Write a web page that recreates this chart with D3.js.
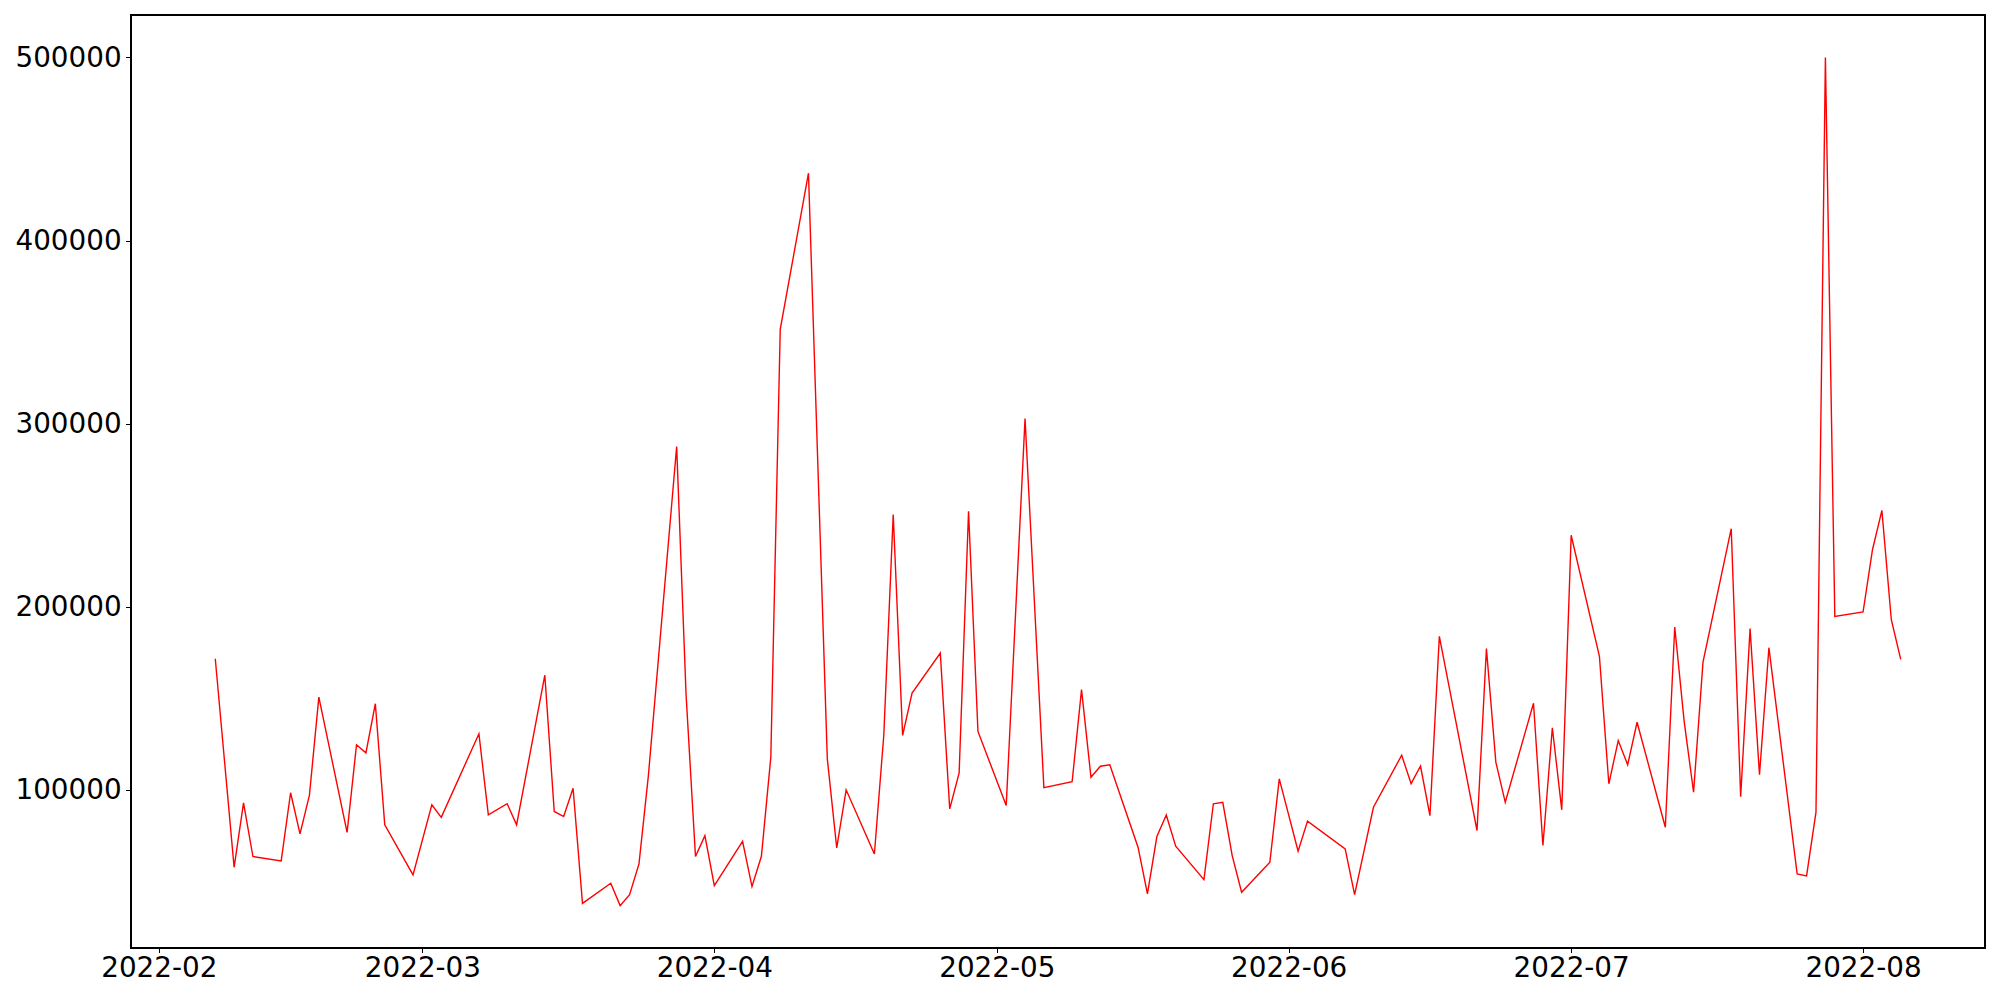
<!DOCTYPE html>
<html>
<head>
<meta charset="utf-8">
<script src="https://cdn.jsdelivr.net/npm/d3@7"></script>
<style>
  body { margin: 0; background: #fff; }
  svg { display: block; }
  .tick text { font-family: "DejaVu Sans", sans-serif; font-size: 27.8px; fill: #000; }
</style>
</head>
<body>
<svg id="chart"></svg>
<script>
let width = 2000, height = 1000
let margin = {top: 15, right: 15, bottom: 52, left: 131}

let dates = [
  '2022-02-07','2022-02-09','2022-02-10','2022-02-11','2022-02-14','2022-02-15','2022-02-16','2022-02-17','2022-02-18',
  '2022-02-21','2022-02-22','2022-02-23','2022-02-24','2022-02-25','2022-02-28','2022-03-02','2022-03-03',
  '2022-03-07','2022-03-08','2022-03-10','2022-03-11','2022-03-14','2022-03-15','2022-03-16','2022-03-17','2022-03-18',
  '2022-03-21','2022-03-22','2022-03-23','2022-03-24','2022-03-25','2022-03-28','2022-03-29','2022-03-30','2022-03-31',
  '2022-04-01','2022-04-04','2022-04-05','2022-04-06','2022-04-07','2022-04-08','2022-04-11','2022-04-13','2022-04-14',
  '2022-04-15','2022-04-18','2022-04-19','2022-04-20','2022-04-21','2022-04-22','2022-04-25','2022-04-26','2022-04-27',
  '2022-04-28','2022-04-29','2022-05-02','2022-05-04','2022-05-06','2022-05-09','2022-05-10','2022-05-11','2022-05-12',
  '2022-05-13','2022-05-16','2022-05-17','2022-05-18','2022-05-19','2022-05-20','2022-05-23','2022-05-24','2022-05-25',
  '2022-05-26','2022-05-27','2022-05-30','2022-05-31','2022-06-02','2022-06-03','2022-06-07','2022-06-08','2022-06-10',
  '2022-06-13','2022-06-14','2022-06-15','2022-06-16','2022-06-17','2022-06-21','2022-06-22','2022-06-23','2022-06-24',
  '2022-06-27','2022-06-28','2022-06-29','2022-06-30','2022-07-01','2022-07-04','2022-07-05','2022-07-06','2022-07-07',
  '2022-07-08','2022-07-11','2022-07-12','2022-07-13','2022-07-14','2022-07-15','2022-07-18','2022-07-19','2022-07-20',
  '2022-07-21','2022-07-22','2022-07-25','2022-07-26','2022-07-27','2022-07-28','2022-07-29','2022-08-01','2022-08-02',
  '2022-08-03','2022-08-04','2022-08-05'
]

let values = [
  171700, 57800, 93000, 63700, 61300, 98500, 76100, 97200, 150700,
  76900, 124700, 120300, 147100, 81000, 53700, 91900, 85100,
  130700, 86400, 92500, 81000, 162700, 88300, 85500, 101000, 38100,
  49100, 36900, 42900, 59700, 108000, 287500, 152000, 63700, 75100,
  47800, 72000, 47300, 63800, 117900, 351500, 436800, 117000, 68400,
  100100, 65100, 130000, 250400, 129800, 152900, 174800, 89700, 109400,
  252200, 132000, 91500, 302800, 101300, 104500, 154800, 107000, 113000,
  113800, 68800, 43300, 74600, 86400, 69300, 51100, 92500, 93300,
  64200, 44200, 60600, 106100, 66600, 83000, 67900, 42900, 90600,
  119000, 103500, 113100, 86000, 183900, 77900, 177200, 115200, 93300,
  147400, 69700, 134000, 89200, 239100, 173000, 103400, 127000, 113800,
  137000, 79700, 189000, 137500, 98800, 169800, 242700, 96400, 188100,
  108300, 177700, 54200, 53100, 87900, 500000, 194800, 197200, 231200,
  252700, 193000, 171300
]

let yTicks = [100000, 200000, 300000, 400000, 500000]

let parse = d3.utcParse('%Y-%m-%d')
let data = dates.map((d, i) => ({date: parse(d), value: values[i]}))

let svg = d3.select('#chart').attr('width', width).attr('height', height)

// matplotlib style 5% padding on both axes
let xExt = d3.extent(data, d => d.date)
let xPad = (xExt[1] - xExt[0]) * 0.05
let yExt = d3.extent(data, d => d.value)
let yPad = (yExt[1] - yExt[0]) * 0.05

let x = d3.scaleUtc()
  .domain([new Date(+xExt[0] - xPad), new Date(+xExt[1] + xPad)])
  .range([margin.left, width - margin.right])
let y = d3.scaleLinear()
  .domain([yExt[0] - yPad, yExt[1] + yPad])
  .range([height - margin.bottom, margin.top])

let line = d3.line().x(d => x(d.date)).y(d => y(d.value))

svg.append('path')
  .datum(data)
  .attr('fill', 'none')
  .attr('stroke', '#ff0000')
  .attr('stroke-width', 1.4)
  .attr('stroke-linejoin', 'miter')
  .attr('d', line)

let xAxis = svg.append('g')
  .attr('transform', `translate(0,${height - margin.bottom})`)
  .call(d3.axisBottom(x).ticks(d3.utcMonth.every(1)).tickFormat(d3.utcFormat('%Y-%m')).tickSize(4.9).tickPadding(4.5))
xAxis.select('.domain').remove()
xAxis.selectAll('.tick line').attr('stroke-width', 1.1).attr('shape-rendering', 'crispEdges')

let yAxis = svg.append('g')
  .attr('transform', `translate(${margin.left},0)`)
  .call(d3.axisLeft(y).tickValues(yTicks).tickFormat(d3.format('d')).tickSize(4.9).tickPadding(4.5))
yAxis.select('.domain').remove()
yAxis.selectAll('.tick line').attr('stroke-width', 1.1).attr('shape-rendering', 'crispEdges')

// frame
svg.append('rect')
  .attr('x', margin.left).attr('y', margin.top)
  .attr('width', width - margin.left - margin.right)
  .attr('height', height - margin.top - margin.bottom)
  .attr('fill', 'none').attr('stroke', '#000').attr('stroke-width', 1.1)
  .attr('shape-rendering', 'crispEdges')
</script>
</body>
</html>
